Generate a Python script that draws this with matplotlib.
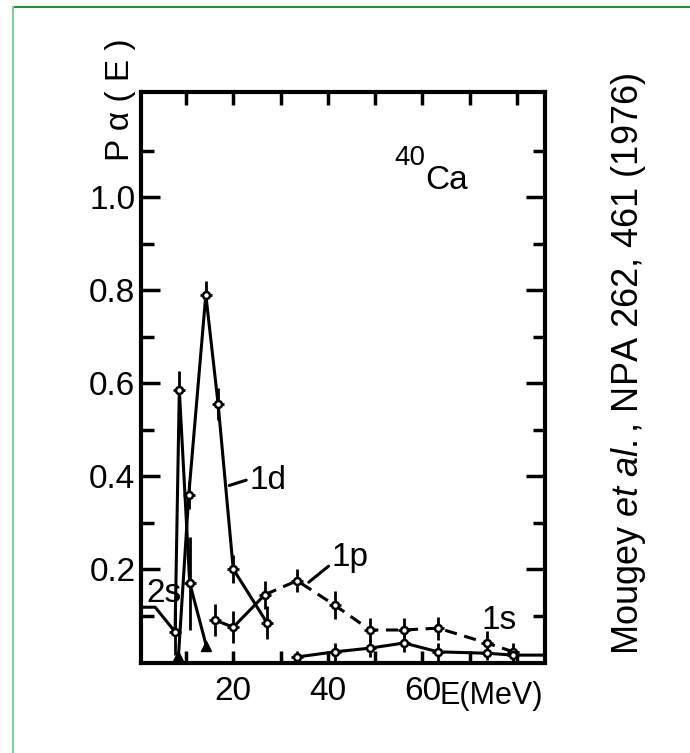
import matplotlib
matplotlib.use("Agg")
import matplotlib.pyplot as plt
from matplotlib.lines import Line2D
import numpy as np

plt.rcParams["font.family"] = ["Liberation Sans", "DejaVu Sans"]
plt.rcParams["mathtext.fontset"] = "custom"
plt.rcParams["mathtext.rm"] = "Liberation Sans"
plt.rcParams["mathtext.it"] = "Liberation Sans:italic"

# alpha-cluster probability P(E) for the shells of 40Ca
e_2s = [1.0, 3.5, 7.7, 8.6, 10.8, 14.3]
p_2s = [0.118, 0.118, 0.065, 0.585, 0.17, 0.035]
err_2s = [0.0, 0.0, 0.05, 0.04, 0.1, 0.0]

e_1d = [8.4, 10.6, 14.2, 16.8, 20.0, 27.1]
p_1d = [0.01, 0.36, 0.79, 0.555, 0.20, 0.085]
err_1d = [0.0, 0.03, 0.03, 0.035, 0.03, 0.035]

e_1p = [16.2, 20.0, 26.7, 33.5, 41.5, 48.9, 56.1, 63.3, 73.6, 79.2]
p_1p = [0.09, 0.075, 0.145, 0.175, 0.122, 0.069, 0.069, 0.073, 0.041, 0.022]
err_1p = [0.035, 0.035, 0.03, 0.025, 0.03, 0.025, 0.025, 0.025, 0.025, 0.02]

e_1s = [33.5, 41.5, 48.9, 56.1, 63.3, 73.6, 79.2, 86.0]
p_1s = [0.011, 0.022, 0.03, 0.041, 0.022, 0.019, 0.015, 0.015]
err_1s = [0.012, 0.02, 0.02, 0.02, 0.02, 0.015, 0.015, 0.0]

x_ticks = [10, 20, 30, 40, 50, 60, 70, 80]
x_ticklabels = ["", "20", "", "40", "", "60", "", ""]
y_ticks = [0.2, 0.4, 0.6, 0.8, 1.0]
y_ticklabels = ["0.2", "0.4", "0.6", "0.8", "1.0"]

W, H = 690, 753
fig = plt.figure(figsize=(W / 100, H / 100), dpi=100)
ax = fig.add_axes([141 / W, 1 - 663 / H, 404 / W, 571 / H])
ax.set_xlim(0.5, 85.9)
ax.set_ylim(-0.002, 1.226)

LW = 2.2
ink = "black"


def draw_points(e, p, err):
    e = np.asarray(e)
    p = np.asarray(p)
    err = np.asarray(err)
    m = err > 0
    ax.errorbar(e[m], p[m], yerr=err[m], xerr=1.3, fmt="o", ms=5, mfc="white",
                mec=ink, mew=1.8, ecolor=ink, elinewidth=2.0, capsize=0, zorder=4)


# 2s
ax.plot(e_2s, p_2s, color=ink, lw=LW, zorder=3)
draw_points(e_2s, p_2s, err_2s)
ax.plot(e_2s[-1], p_2s[-1], marker="^", ms=7, color=ink, zorder=4)

# 1d
ax.plot(e_1d, p_1d, color=ink, lw=LW, zorder=3)
draw_points(e_1d, p_1d, err_1d)
ax.plot(e_1d[0], p_1d[0], marker="^", ms=9, color=ink, zorder=4)

# 1p: solid at low energy, dashed above
ax.plot(e_1p[:3], p_1p[:3], color=ink, lw=LW, zorder=3)
ln, = ax.plot(e_1p[2:], p_1p[2:], color=ink, lw=LW, zorder=3)
ln.set_dashes([4, 2.5])
draw_points(e_1p, p_1p, err_1p)

# 1s
ax.plot(e_1s, p_1s, color=ink, lw=LW, zorder=3)
draw_points(e_1s, p_1s, err_1s)

# curve labels
fs = 24
ax.text(1.6, 0.148, "2s", fontsize=fs, va="center", ha="left")
ax.text(23.5, 0.39, "1d", fontsize=fs, va="center", ha="left")
ax.annotate("", xy=(18.6, 0.378), xytext=(23.3, 0.393),
            arrowprops=dict(arrowstyle="-", lw=LW, color=ink))
ax.text(40.8, 0.225, "1p", fontsize=fs, va="center", ha="left")
ax.annotate("", xy=(35.5, 0.168), xytext=(40.6, 0.21),
            arrowprops=dict(arrowstyle="-", lw=LW, color=ink))
ax.text(72.5, 0.09, "1s", fontsize=fs, va="center", ha="left")

ax.text(54.0, 1.085, "40", fontsize=20, va="center", ha="left")
ax.text(60.5, 1.035, "Ca", fontsize=fs, va="center", ha="left")

# axes styling
for s in ax.spines.values():
    s.set_linewidth(3)
ax.set_xticks(x_ticks)
ax.set_xticklabels(x_ticklabels, fontsize=fs)
ax.set_yticks(y_ticks)
ax.set_yticklabels(y_ticklabels, fontsize=fs)
ax.set_yticks(np.arange(0.1, 1.21, 0.2), minor=True)
ax.tick_params(axis="both", which="major", direction="in", length=14, width=2.5,
               top=True, right=True, pad=4)
ax.tick_params(axis="x", which="major", length=9, pad=9)
ax.tick_params(axis="y", which="minor", direction="in", length=9, width=2.5,
               left=True, right=True)
ax.text(0.74, -0.032, "E(MeV)", transform=ax.transAxes, fontsize=22,
        va="top", ha="left")

fig.text(121 / W, 1 - 100 / H, "P α ( E )", rotation=90, fontsize=fs,
         ha="center", va="center")

fig.text(638 / W, 1 - 655 / H, r"Mougey $\it{et\ al.}$, NPA 262, 461 (1976)",
         rotation=90, rotation_mode="anchor", ha="left", va="baseline",
         fontsize=26, family="Liberation Sans")

# page frame
fig.add_artist(Line2D([13 / W, 1.0], [1 - 7 / H, 1 - 7 / H], color="#2e8b3e",
                      lw=1.5, transform=fig.transFigure))
fig.add_artist(Line2D([13 / W, 13 / W], [0.0, 1 - 7 / H], color="#7fcf9f",
                      lw=1.5, transform=fig.transFigure))

fig.savefig("out.png", dpi=100)
